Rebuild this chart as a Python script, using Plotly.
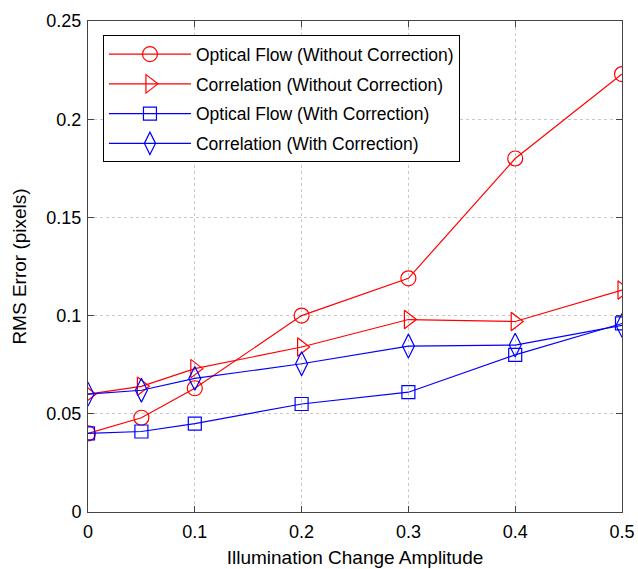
import plotly.graph_objects as go

# Illumination change amplitude (x) and RMS error (pixels) for each method
amplitude = [0, 0.05, 0.1, 0.2, 0.3, 0.4, 0.5]
of_without = [0.040, 0.048, 0.063, 0.100, 0.119, 0.180, 0.223]
corr_without = [0.060, 0.064, 0.073, 0.084, 0.098, 0.097, 0.113]
of_with = [0.040, 0.041, 0.045, 0.055, 0.061, 0.080, 0.096]
corr_with = [0.060, 0.062, 0.068, 0.0755, 0.0845, 0.085, 0.095]

x_ticks = [0, 0.1, 0.2, 0.3, 0.4, 0.5]
x_tick_text = ["0", "0.1", "0.2", "0.3", "0.4", "0.5"]
y_ticks = [0, 0.05, 0.1, 0.15, 0.2, 0.25]
y_tick_text = ["0", "0.05", "0.1", "0.15", "0.2", "0.25"]

series = [
    ("Optical Flow (Without Correction)", of_without, "red", "circle-open"),
    ("Correlation (Without Correction)", corr_without, "red", "triangle-right-open"),
    ("Optical Flow (With Correction)", of_with, "blue", "square-open"),
    ("Correlation (With Correction)", corr_with, "blue", "diamond-tall-open"),
]
sizes = {"circle-open": 15, "triangle-right-open": 16, "square-open": 13, "diamond-tall-open": 17}

fig = go.Figure()
for i, (name, vals, color, sym) in enumerate(series):
    fig.add_trace(go.Scatter(
        x=amplitude, y=vals, name=name, mode="lines+markers",
        line=dict(color=color, width=1.2),
        marker=dict(symbol=sym, size=sizes[sym], color=color, line=dict(width=1.2, color=color)),
        legendgroup=f"g{i}",
    ))

font = "Liberation Sans, Arial, sans-serif"
axis_common = dict(
    showline=True, linecolor="#444", linewidth=1, mirror="ticks",
    ticks="inside", ticklen=6, tickcolor="#444",
    showgrid=True, gridcolor="#c8c8c8", griddash="dot", gridwidth=1,
    zeroline=False, automargin=False,
    tickfont=dict(family=font, size=18, color="black"),
)

fig.update_xaxes(range=[0, 0.5], tickvals=x_ticks, ticktext=x_tick_text,
                 ticklabelstandoff=3,
                 title=dict(text="Illumination Change Amplitude", font=dict(family=font, size=19, color="black"), standoff=10),
                 **axis_common)
fig.update_yaxes(range=[0, 0.25], tickvals=y_ticks, ticktext=y_tick_text,
                 ticklabelstandoff=2,
                 title=dict(text="RMS Error (pixels)", font=dict(family=font, size=19, color="black"), standoff=14),
                 **axis_common)

fig.update_layout(
    width=638, height=569,
    margin=dict(l=88, r=16, t=21, b=57),
    paper_bgcolor="white", plot_bgcolor="white",
    showlegend=True,
    legend=dict(
        x=0.028, y=0.971, xanchor="left", yanchor="top",
        bgcolor="white", bordercolor="black", borderwidth=1,
        font=dict(family=font, size=17.5, color="black"),
        tracegroupgap=4, itemwidth=82,
        entrywidth=272, entrywidthmode="pixels",
    ),
)

fig.write_html("out.html")
